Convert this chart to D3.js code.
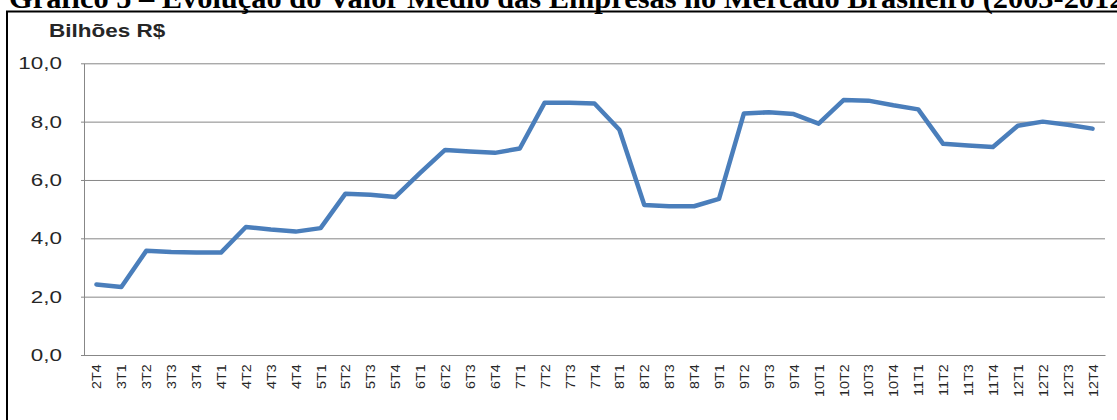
<!DOCTYPE html>
<html>
<head>
<meta charset="utf-8">
<script src="https://cdn.jsdelivr.net/npm/d3@7"></script>
<style>
  html, body { margin: 0; padding: 0; background: #fff; overflow: hidden; }
  svg { display: block; }
</style>
</head>
<body>
<svg id="chart" width="1117" height="420"></svg>
<script>
// Trimestres (ano-trimestre), de 2T4 a 12T4
const quarters = [
  "2T4",
  "3T1", "3T2", "3T3", "3T4",
  "4T1", "4T2", "4T3", "4T4",
  "5T1", "5T2", "5T3", "5T4",
  "6T1", "6T2", "6T3", "6T4",
  "7T1", "7T2", "7T3", "7T4",
  "8T1", "8T2", "8T3", "8T4",
  "9T1", "9T2", "9T3", "9T4",
  "10T1", "10T2", "10T3", "10T4",
  "11T1", "11T2", "11T3", "11T4",
  "12T1", "12T2", "12T3", "12T4"
];

// Valor médio das empresas (bilhões de R$)
const valorMedio = [
  2.42,
  2.33, 3.57, 3.53, 3.51,
  3.51, 4.39, 4.30, 4.23,
  4.35, 5.53, 5.49, 5.42,
  6.24, 7.03, 6.98, 6.93,
  7.08, 8.65, 8.65, 8.62,
  7.72, 5.14, 5.10, 5.10,
  5.35, 8.28, 8.32, 8.26,
  7.93, 8.74, 8.72, 8.56,
  8.42, 7.24, 7.18, 7.13,
  7.86, 8.00, 7.89, 7.76
];

const yTicks = [0, 2, 4, 6, 8, 10];

const titulo = "Gráfico 5 – Evolução do Valor Médio das Empresas no Mercado Brasileiro (2003-2012)";
const unidade = "Bilhões R$";

const svg = d3.select("#chart");
const plot = { left: 84, right: 1105, top: 63.3, bottom: 355 };

const x = d3.scalePoint()
  .domain(quarters)
  .range([plot.left, plot.right])
  .padding(0.5);

const y = d3.scaleLinear()
  .domain([0, 10])
  .range([plot.bottom, plot.top]);

const ptBR = d3.formatLocale({ decimal: ",", thousands: ".", grouping: [3], currency: ["R$", ""] });
const fmt = ptBR.format(".1f");

const textColor = "#262626";
const gridColor = "#878787";

// Título (serifado, negrito), sizing from the first words' width
const title = svg.append("text")
  .attr("x", 9)
  .attr("y", 8)
  .style("font-family", "'Liberation Serif', 'Times New Roman', serif")
  .style("font-weight", "bold")
  .style("font-size", "24px")
  .attr("fill", "#000")
  .text("Gráfico 5 – Evolução do Valor");
const wFirst = title.node().getComputedTextLength();
title.style("font-size", (24 * 391 / wFirst) + "px").text(titulo);

// Moldura do gráfico
svg.append("path")
  .attr("d", "M7,420 V11.5 H1117")
  .attr("fill", "none")
  .attr("stroke", "#000")
  .attr("stroke-width", 2);

// Linhas de grade horizontais
const grid = svg.append("g")
  .attr("transform", `translate(${plot.left},0)`)
  .call(d3.axisLeft(y)
    .tickValues(yTicks)
    .tickSize(-(plot.right - plot.left))
    .tickSizeOuter(0)
    .tickFormat(""));
grid.select(".domain").attr("stroke", gridColor);
grid.selectAll(".tick line").attr("stroke", gridColor).attr("stroke-width", 1);

// Marcas curtas à esquerda do eixo
const shortTicks = svg.append("g")
  .attr("transform", `translate(${plot.left},0)`)
  .call(d3.axisLeft(y).tickValues(yTicks).tickSize(3).tickSizeOuter(0).tickFormat(""));
shortTicks.select(".domain").remove();
shortTicks.selectAll(".tick line").attr("stroke", gridColor);

// Rótulos do eixo Y
svg.append("g")
  .selectAll("text")
  .data(yTicks)
  .join("text")
  .attr("transform", d => `translate(62,${y(d)}) scale(1.32,1)`)
  .attr("text-anchor", "end")
  .attr("dy", "0.36em")
  .style("font-family", "'Liberation Sans', Arial, sans-serif")
  .style("font-size", "17px")
  .attr("fill", textColor)
  .text(d => fmt(d));

// Unidade
svg.append("text")
  .attr("transform", "translate(49,37) scale(1.25,1)")
  .style("font-family", "'Liberation Sans', Arial, sans-serif")
  .style("font-weight", "bold")
  .style("font-size", "18px")
  .attr("fill", textColor)
  .text(unidade);

// Eixo X com rótulos verticais
const xAxis = svg.append("g")
  .attr("transform", `translate(0,${plot.bottom})`)
  .call(d3.axisBottom(x).tickSize(0).tickSizeOuter(0));
xAxis.select(".domain").attr("stroke", gridColor).attr("stroke-width", 1);
xAxis.selectAll(".tick text")
  .attr("transform", "rotate(-90) scale(1.15,1)")
  .attr("text-anchor", "end")
  .attr("x", -8)
  .attr("y", 0)
  .attr("dy", "0.36em")
  .style("font-family", "'Liberation Sans', Arial, sans-serif")
  .style("font-size", "12.5px")
  .attr("fill", textColor);

// Série
const line = d3.line()
  .x((d, i) => x(quarters[i]))
  .y(d => y(d));

svg.append("path")
  .datum(valorMedio)
  .attr("d", line)
  .attr("fill", "none")
  .attr("stroke", "#4a7ebb")
  .attr("stroke-width", 4.5)
  .attr("stroke-linejoin", "round")
  .attr("stroke-linecap", "round");
</script>
</body>
</html>
